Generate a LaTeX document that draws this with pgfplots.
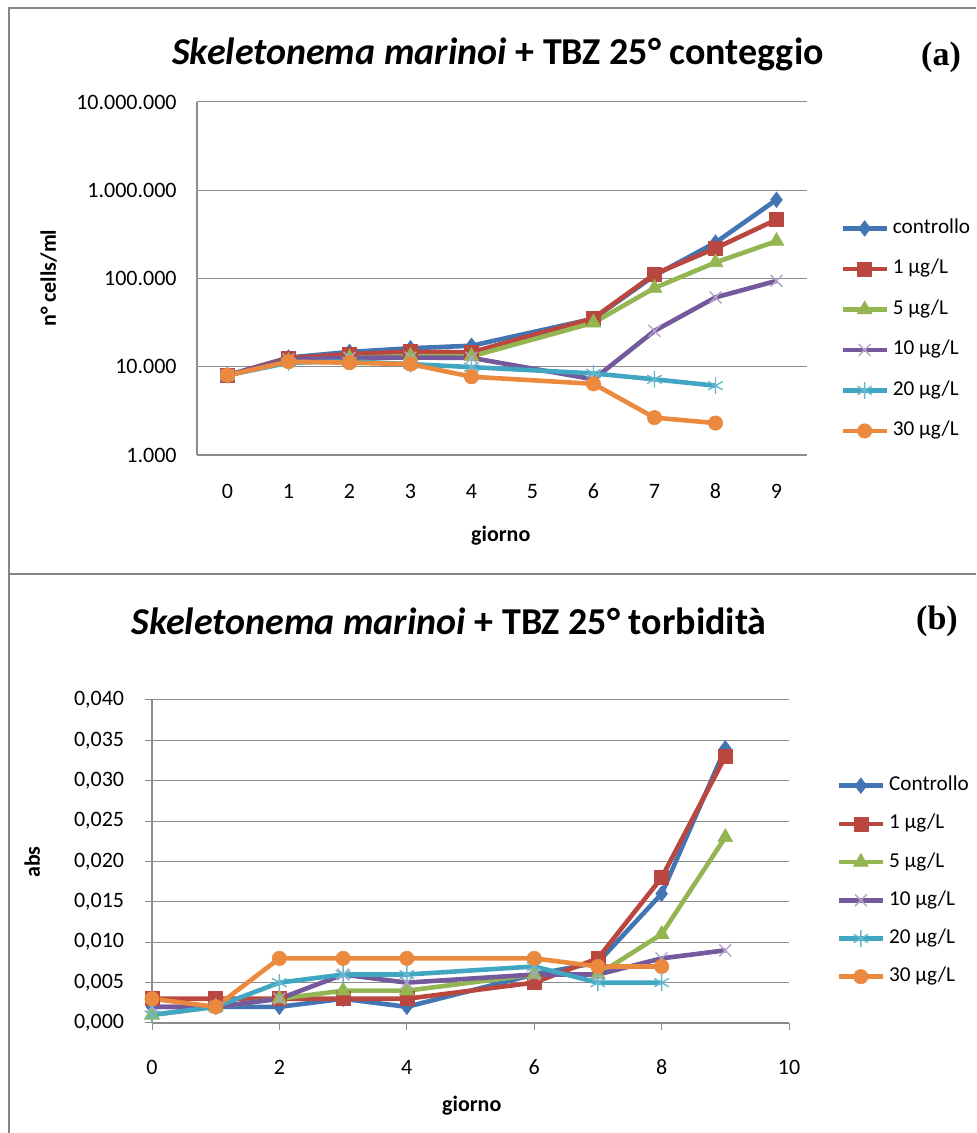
\documentclass[border=0pt]{standalone}
\usepackage{pgfplots}
\pgfplotsset{compat=1.18}
\usepackage{fontspec}
\setmainfont{Carlito}
\newfontfamily\timesfont{Liberation Serif}
\definecolor{cBlue}{HTML}{4275B3}
\definecolor{cRed}{HTML}{B9473F}
\definecolor{cGreen}{HTML}{93B552}
\definecolor{cPurple}{HTML}{745A9C}
\definecolor{cCyan}{HTML}{40A6C2}
\definecolor{cOrange}{HTML}{EB8A3E}
\definecolor{gridgray}{HTML}{8C8C8C}
\definecolor{framegray}{HTML}{858585}

\pgfplotsset{
 excel/.style={
   scale only axis, clip=false,
   axis x line*=bottom, axis y line*=left,
   axis line style={-, draw=gridgray, line width=0.6pt},
   ymajorgrids, major grid style={draw=gridgray, line width=0.5pt},
   tick label style={font=\fontsize{11}{13}\selectfont},
   label style={font=\bfseries\fontsize{11}{13}\selectfont},
   legend style={draw=none, fill=none, inner sep=0pt, anchor=north west,
     font=\fontsize{10.6}{12}\selectfont,
     nodes={inner sep=0pt, text height=8pt, text depth=3pt, anchor=west},
     column sep=2pt, row sep=9.25pt},
   legend cell align=left,
   legend image code/.code={\draw[mark repeat=2,mark phase=2,##1] plot coordinates {(0pt,0pt) (11pt,0pt) (22pt,0pt)};},
   every axis plot/.append style={line width=2.3pt, line join=round},
 },
 sBlue/.style={cBlue, mark=diamond*, mark size=3.9pt, mark options={fill=cBlue, line width=0.3pt}},
 sRed/.style={cRed, mark=square*, mark size=3.5pt, mark options={fill=cRed, line width=0.3pt}},
 sGreen/.style={cGreen, mark=triangle*, mark size=4.3pt, mark options={fill=cGreen, line width=0.3pt}},
 sPurple/.style={cPurple, mark=x, mark size=4.2pt, mark options={draw=cPurple!55!white, line width=0.7pt}},
 sCyan/.style={cCyan, mark=asterisk, mark size=4.2pt, mark options={draw=cCyan!80!white, line width=0.7pt}},
 sOrange/.style={cOrange, mark=*, mark size=3.6pt, mark options={fill=cOrange, line width=0.3pt}},
}

\begin{document}
\begin{tikzpicture}
\useasboundingbox (0,0) rectangle (488pt,566.5pt);
% frames
\draw[framegray, line width=1pt] (4.5pt,0pt) -- (4.5pt,562.5pt) -- (488pt,562.5pt);
\draw[framegray, line width=1pt] (4.5pt,279.5pt) -- (488pt,279.5pt);

% titles
\node[anchor=base, font=\bfseries\fontsize{19}{22}\selectfont] at (249pt,534pt) {\textit{Skeletonema marinoi} + TBZ 25° conteggio};
\node[anchor=base, font=\timesfont\bfseries\fontsize{17}{20}\selectfont] at (470.5pt,533.5pt) {(a)};
\node[anchor=base, font=\bfseries\fontsize{19}{22}\selectfont] at (224.5pt,249pt) {\textit{Skeletonema marinoi} + TBZ 25° torbidità};
\node[anchor=base, font=\timesfont\bfseries\fontsize{17}{20}\selectfont] at (468.5pt,251.5pt) {(b)};

% ---------- panel (a)
\begin{axis}[excel,
  at={(98.5pt,339pt)}, anchor=south west,
  width=305pt, height=176.5pt,
  ymode=log, ymin=1000, ymax=10000000,
  xmin=-0.5, xmax=9.5,
  xtick={0,1,2,3,4,5,6,7,8,9},
  xticklabels={0,1,2,3,4,5,6,7,8,9},
  ytick={1000,10000,100000,1000000,10000000},
  yticklabels={1.000,10.000,100.000,1.000.000,10.000.000},
  yminorticks=false,
  major tick length=0pt,
  xticklabel style={anchor=base, yshift=-21.9pt},
  yticklabel style={anchor=east, inner sep=0pt, xshift=-10pt},
  xlabel={giorno}, ylabel={n° cells/ml},
  xlabel style={at={(axis description cs:0.498,-0.229)}, anchor=center},
  ylabel style={at={(axis description cs:-0.243,0.501)}, anchor=center, rotate=0},
  legend style={at={(1.054,0.674)}},
]
\addplot[sBlue] coordinates {(0,8000)(1,12700)(2,14700)(3,16200)(4,17300)(6,35000)(7,108000)(8,255000)(9,780000)};
\addlegendentry{controllo}
\addplot[sRed] coordinates {(0,8000)(1,12500)(2,13900)(3,14800)(4,14600)(6,35500)(7,112000)(8,220000)(9,465000)};
\addlegendentry{1 µg/L}
\addplot[sGreen] coordinates {(0,8000)(1,11600)(2,12600)(3,13200)(4,13100)(6,31500)(7,78000)(8,152000)(9,265000)};
\addlegendentry{5 µg/L}
\addplot[sPurple] coordinates {(0,8000)(1,12100)(2,12600)(3,12700)(4,12600)(6,7200)(7,25500)(8,61000)(9,94000)};
\addlegendentry{10 µg/L}
\addplot[sCyan] coordinates {(0,8000)(1,11100)(2,11500)(3,10700)(4,9900)(6,8400)(7,7200)(8,6100)};
\addlegendentry{20 µg/L}
\addplot[sOrange] coordinates {(0,8000)(1,11400)(2,11100)(3,10700)(4,7700)(6,6400)(7,2650)(8,2300)};
\addlegendentry{30 µg/L}
\end{axis}

% ---------- panel (b)
\begin{axis}[excel,
  at={(76pt,55pt)}, anchor=south west,
  width=318.5pt, height=161.5pt,
  xmin=0, xmax=10, ymin=0, ymax=0.04,
  xtick={0,2,4,6,8,10},
  xticklabels={0,2,4,6,8,10},
  ytick={0,0.005,0.01,0.015,0.02,0.025,0.03,0.035,0.04},
  yticklabels={{0,000},{0,005},{0,010},{0,015},{0,020},{0,025},{0,030},{0,035},{0,040}},
  scaled y ticks=false,
  tick align=outside, major tick length=3.75pt,
  tick style={draw=gridgray, line width=0.5pt},
  xticklabel style={anchor=base, yshift=-21.9pt},
  yticklabel style={anchor=east, inner sep=0pt, xshift=-10pt},
  xlabel={giorno}, ylabel={abs},
  xlabel style={at={(axis description cs:0.502,-0.257)}, anchor=center},
  ylabel style={at={(axis description cs:-0.188,0.498)}, anchor=center, rotate=0},
  legend style={at={(1.074,0.77)}, row sep=8.1pt},
]
\addplot[sBlue] coordinates {(0,0.002)(1,0.002)(2,0.002)(3,0.003)(4,0.002)(6,0.006)(7,0.0075)(8,0.016)(9,0.034)};
\addlegendentry{Controllo}
\addplot[sRed] coordinates {(0,0.003)(1,0.003)(2,0.003)(3,0.003)(4,0.003)(6,0.005)(7,0.008)(8,0.018)(9,0.033)};
\addlegendentry{1 µg/L}
\addplot[sGreen] coordinates {(0,0.001)(1,0.002)(2,0.003)(3,0.004)(4,0.004)(6,0.006)(7,0.006)(8,0.011)(9,0.023)};
\addlegendentry{5 µg/L}
\addplot[sPurple] coordinates {(0,0.002)(1,0.002)(2,0.003)(3,0.006)(4,0.005)(6,0.006)(7,0.006)(8,0.008)(9,0.009)};
\addlegendentry{10 µg/L}
\addplot[sCyan] coordinates {(0,0.001)(1,0.002)(2,0.005)(3,0.006)(4,0.006)(6,0.007)(7,0.005)(8,0.005)};
\addlegendentry{20 µg/L}
\addplot[sOrange] coordinates {(0,0.003)(1,0.002)(2,0.008)(3,0.008)(4,0.008)(6,0.008)(7,0.007)(8,0.007)};
\addlegendentry{30 µg/L}
\end{axis}
\end{tikzpicture}
\end{document}
